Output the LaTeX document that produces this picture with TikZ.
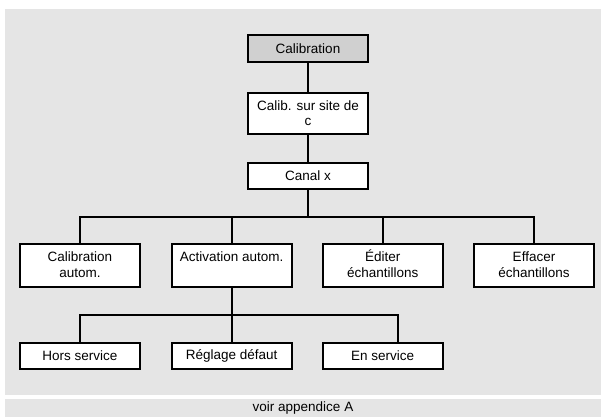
\documentclass[tikz,border=0pt]{standalone}
\usepackage{fontspec}
\setmainfont{Liberation Sans}
\definecolor{panelgray}{RGB}{229,229,229}
\definecolor{headgray}{RGB}{208,208,208}
\newcommand{\tstrut}{\rule{0pt}{12.5pt}}
\newcommand{\bstrut}{\rule[-4.8pt]{0pt}{4.8pt}}
\begin{document}
\begin{tikzpicture}[x=1pt,y=-1pt,
  every node/.style={font=\fontsize{13.5}{15.7}\selectfont},
  box/.style={draw=black,line width=2pt,fill=white,inner sep=0pt,
    minimum width=120pt,align=center},
  onebox/.style={box,minimum height=26.5pt},
  twobox/.style={box,minimum height=43pt},
  link/.style={draw=black,line width=2pt}]
\useasboundingbox (0,0) rectangle (601,417);
\fill[white] (0,0) rectangle (601,417);
\fill[panelgray] (5,9) rectangle (601,394.5);
\fill[panelgray] (5,398.5) rectangle (601,417);
\node (foot) at (303,408) {voir appendice A};

\node[onebox,fill=headgray,minimum height=27pt] (cal) at (308,48.5) {Calibration};
\node[box,minimum height=41.5pt] (site) at (308,113.3) {Calib. sur site de\\c};
\node[onebox] (canal) at (308,176) {Canal x};

\node[twobox] (b1) at (80,265.7) {\tstrut Calibration\\autom.\bstrut};
\node[twobox] (b2) at (231.7,265.7) {\tstrut Activation autom.\\\mbox{}\bstrut};
\node[twobox] (b3) at (382.7,265.7) {\tstrut Éditer\\échantillons\bstrut};
\node[twobox] (b4) at (534,265.7) {\tstrut Effacer\\échantillons\bstrut};

\node[onebox] (c1) at (80,356) {Hors service};
\node[onebox] (c2) at (231.7,356) {Réglage défaut};
\node[onebox] (c3) at (382.7,356) {En service};

\coordinate (j1) at (308,216.7);
\coordinate (j2) at (231.7,314.5);

\draw[link] (cal) -- (site);
\draw[link] (site) -- (canal);
\draw[link] (canal) -- (j1);
\draw[link] (b1.north) |- (j1);
\draw[link] (b2.north) |- (j1);
\draw[link] (b3.north) |- (j1);
\draw[link] (b4.north) |- (j1);
\draw[link] (b2) -- (j2);
\draw[link] (c1.north) |- (j2);
\draw[link] (c2) -- (j2);
\draw[link] ([xshift=15.3pt]c3.north) |- (j2);
\end{tikzpicture}
\end{document}
